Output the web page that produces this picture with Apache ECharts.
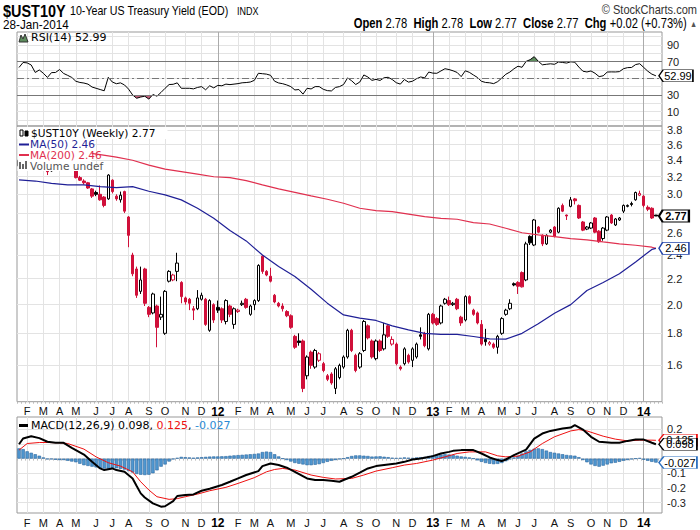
<!DOCTYPE html>
<html>
<head>
<meta charset="UTF-8">
<title>$UST10Y 10-Year US Treasury Yield</title>
<script src="https://cdn.jsdelivr.net/npm/echarts@6/dist/echarts.min.js"></script>
<style>
  html, body { margin: 0; padding: 0; background: #fff; }
  #main { width: 700px; height: 530px; }
</style>
</head>
<body>
<div id="main"></div>
<script>
// weekly bars, first bar = week of Mon 24-Jan-2011, last = week of 27-Jan-2014
var firstWeek = Date.UTC(2011, 0, 24);
var barCount = 158;
var asOf = '28-Jan-2014';

var opens = [3.33,3.40,3.64,3.62,3.57,3.43,3.49,3.36,3.27,3.44,
  3.46,3.57,3.41,3.38,3.28,3.19,3.15,3.13,3.06,3.02,
  3.00,2.97,2.95,3.16,2.98,2.94,3.03,2.76,2.40,2.28,
  2.10,2.28,1.98,1.94,1.99,1.91,1.80,2.18,2.19,2.26,
  2.17,2.05,2.04,1.97,1.97,2.04,2.04,1.82,2.00,1.98,
  1.97,1.88,1.99,1.86,1.95,2.00,2.04,1.93,2.00,2.03,
  2.39,2.26,2.22,2.07,2.01,1.99,1.95,1.92,1.78,1.75,
  1.75,1.54,1.68,1.59,1.63,1.61,1.54,1.55,1.47,1.53,
  1.59,1.65,1.82,1.66,1.59,1.69,1.85,1.75,1.64,1.75,
  1.70,1.85,1.73,1.73,1.59,1.61,1.66,1.63,1.65,1.79,
  1.80,1.70,1.93,1.90,1.87,2.01,2.03,2.00,2.04,1.91,
  1.89,2.06,1.96,1.94,1.86,1.76,1.73,1.73,1.71,1.80,
  1.93,1.97,2.16,2.17,2.25,2.19,2.57,2.49,2.66,2.58,
  2.50,2.61,2.66,2.61,2.88,2.78,2.87,2.95,2.88,2.71,
  2.64,2.65,2.75,2.62,2.55,2.63,2.78,2.68,2.73,2.82,
  2.87,2.90,2.94,2.99,2.98,2.86,2.85,2.78];
var closes = [3.40,3.64,3.63,3.58,3.42,3.49,3.40,3.26,3.44,3.45,
  3.58,3.41,3.39,3.33,3.19,3.16,3.13,3.07,2.98,3.00,
  2.94,2.88,3.22,3.03,2.95,2.99,2.82,2.58,2.24,2.07,
  2.19,2.01,1.93,2.08,1.84,1.93,2.10,2.26,2.23,2.33,
  2.06,2.02,2.01,1.96,2.05,2.07,1.86,2.03,1.89,1.96,
  1.89,2.03,1.93,1.97,1.96,2.01,1.98,1.99,2.03,2.31,
  2.26,2.23,2.18,2.02,1.99,1.97,1.92,1.84,1.71,1.74,
  1.47,1.65,1.60,1.69,1.67,1.57,1.52,1.50,1.58,1.60,
  1.65,1.82,1.69,1.57,1.67,1.88,1.77,1.65,1.75,1.69,
  1.79,1.78,1.76,1.61,1.58,1.70,1.62,1.70,1.73,1.78,
  1.72,1.93,1.87,1.86,1.99,2.04,2.00,2.01,1.97,1.87,
  2.06,2.01,1.93,1.87,1.73,1.745,1.74,1.71,1.78,1.90,
  1.96,2.01,2.15,2.14,2.135,2.50,2.51,2.73,2.61,2.50,
  2.58,2.63,2.57,2.85,2.82,2.77,2.94,2.93,2.75,2.63,
  2.66,2.70,2.61,2.52,2.65,2.76,2.70,2.74,2.75,2.88,
  2.88,2.89,3.02,3.01,2.88,2.84,2.75,2.77];
var lows = [3.31,3.38,3.58,3.55,3.40,3.40,3.38,3.22,3.26,3.40,
  3.44,3.40,3.35,3.31,3.18,3.15,3.11,3.06,2.96,2.98,
  2.93,2.86,2.94,3.01,2.93,2.91,2.80,2.47,2.22,2.05,
  2.08,1.99,1.91,1.93,1.71,1.89,1.79,2.17,2.18,2.18,
  2.01,2.00,1.96,1.89,1.96,2.03,1.85,1.81,1.87,1.94,
  1.87,1.86,1.91,1.83,1.94,1.99,1.97,1.92,1.96,2.02,
  2.24,2.22,2.17,2.01,1.98,1.95,1.91,1.83,1.70,1.72,
  1.45,1.52,1.58,1.58,1.62,1.56,1.51,1.49,1.44,1.52,
  1.58,1.64,1.68,1.56,1.58,1.68,1.76,1.64,1.63,1.68,
  1.69,1.77,1.72,1.60,1.57,1.60,1.61,1.59,1.64,1.76,
  1.71,1.69,1.86,1.85,1.86,2.00,1.99,1.99,1.96,1.85,
  1.88,2.00,1.92,1.86,1.72,1.72,1.72,1.70,1.67,1.79,
  1.92,1.96,2.14,2.08,2.13,2.18,2.49,2.48,2.60,2.48,
  2.49,2.60,2.56,2.60,2.81,2.73,2.86,2.89,2.74,2.62,
  2.63,2.64,2.60,2.51,2.53,2.62,2.69,2.67,2.72,2.80,
  2.86,2.87,2.93,2.98,2.86,2.82,2.74,2.77];
var highs = [3.44,3.66,3.75,3.65,3.59,3.58,3.52,3.38,3.45,3.52,
  3.60,3.59,3.44,3.40,3.30,3.21,3.17,3.14,3.07,3.04,
  3.10,2.98,3.23,3.17,3.00,3.03,3.04,2.77,2.42,2.30,
  2.30,2.29,1.99,2.09,2.00,2.06,2.11,2.27,2.24,2.42,
  2.18,2.06,2.05,1.99,2.11,2.09,2.05,2.04,2.01,2.03,
  1.98,2.04,2.00,1.98,1.97,2.03,2.05,2.00,2.04,2.32,
  2.40,2.27,2.29,2.08,2.02,2.01,1.96,1.93,1.79,1.80,
  1.76,1.66,1.69,1.70,1.68,1.62,1.55,1.56,1.59,1.61,
  1.66,1.83,1.83,1.67,1.68,1.89,1.86,1.76,1.76,1.76,
  1.87,1.86,1.78,1.74,1.60,1.71,1.67,1.71,1.74,1.84,
  1.81,1.94,1.94,1.91,2.00,2.05,2.06,2.02,2.05,1.92,
  2.07,2.07,1.97,1.95,1.89,1.83,1.75,1.74,1.79,1.91,
  1.97,2.04,2.17,2.18,2.26,2.52,2.58,2.74,2.67,2.59,
  2.59,2.64,2.67,2.86,2.90,2.785,2.97,2.96,2.89,2.72,
  2.67,2.71,2.76,2.63,2.66,2.77,2.79,2.75,2.76,2.89,
  2.89,2.92,3.03,3.04,2.99,2.88,2.86,2.78];

// moving averages read at [bar index, yield]
var ma50 = [[0,3.163],[4,3.15],[8,3.124],[12,3.105],[16,3.105],[20,3.086],[24,3.075],[28,3.086],
  [32,3.034],[36,2.993],[40,2.939],[44,2.85],[48,2.747],[52,2.626],[56,2.528],[60,2.40],[64,2.30],
  [68,2.218],[72,2.117],[76,2.011],[80,1.926],[84,1.903],[88,1.887],[92,1.85],[96,1.823],[100,1.80],
  [104,1.793],[108,1.793],[112,1.779],[116,1.764],[120,1.762],[124,1.80],[128,1.864],[132,1.938],
  [136,2.0],[140,2.107],[144,2.17],[148,2.24],[152,2.34],[156,2.45],[157,2.46]];
var ma200 = [[16,3.50],[20,3.47],[24,3.44],[28,3.40],[32,3.34],[36,3.29],[40,3.26],[44,3.23],
  [48,3.20],[52,3.19],[56,3.155],[60,3.105],[64,3.06],[68,3.022],[72,2.982],[76,2.946],[80,2.903],
  [84,2.85],[88,2.826],[92,2.815],[96,2.79],[100,2.764],[104,2.747],[108,2.737],[112,2.704],
  [116,2.69],[120,2.648],[124,2.605],[128,2.584],[132,2.568],[136,2.549],[140,2.537],[144,2.518],
  [148,2.50],[152,2.488],[156,2.47],[157,2.46]];

var rsi = [63,69,68.5,66,57,60,56,51,56.8,57,
  60.5,55.8,53.5,51,46.5,45,44.3,43,39.5,38,
  36.5,35,51.2,45.5,43.5,44.5,42,37,30,26,
  27.5,28.5,25,30.5,28.5,33,38,42.5,42.8,44.5,
  38,38,38,37.3,39,40,36.2,41,38.5,41.5,
  41,43,42.4,43,43.6,44.6,44.9,45.5,47.5,56,
  55.5,55,53.6,46.5,44.4,43.5,42,40,36,36.5,
  31,38,37.2,40,40,36.8,35.2,34.8,39,40,
  42.5,50.5,47,42.5,45.5,54,51.5,47.5,48.7,47.4,
  50.7,51.2,48.5,44.7,43,48.5,45.4,46.5,49.5,51.6,
  50.5,57.5,56.2,56,58.8,61.5,60.5,59,57,52,
  59,57.2,54,51,46.4,45,44.6,43.6,46,50.3,
  54.8,57.5,61.4,64.5,63.2,70.3,72.4,76,70.5,66.2,
  66.8,67.4,66.8,69.6,69,68.3,69.8,69.3,63.5,58.5,
  57.6,58.8,56,52,53,57.5,57.7,57.6,58,61.5,
  62.8,63,66.5,67.5,63,58.5,55,52.99];

var macd = [[0,0.098],[1,0.137],[3,0.153],[5,0.14],[7,0.115],[9,0.108],[11,0.108],[13,0.074],
  [16,0.028],[18,-0.022],[20,-0.067],[21,-0.078],[23,-0.067],[24,-0.078],[26,-0.09],[28,-0.135],
  [29,-0.187],[30,-0.237],[31,-0.265],[33,-0.305],[35,-0.328],[36,-0.325],[38,-0.29],[39,-0.255],
  [41,-0.248],[43,-0.244],[45,-0.219],[47,-0.205],[50,-0.18],[52,-0.158],[54,-0.135],[56,-0.112],
  [59,-0.085],[60,-0.051],[62,-0.033],[64,-0.044],[66,-0.062],[68,-0.09],[71,-0.135],[73,-0.146],
  [75,-0.146],[77,-0.151],[79,-0.158],[80,-0.146],[82,-0.124],[84,-0.096],[86,-0.067],[88,-0.051],
  [91,-0.04],[93,-0.033],[95,-0.022],[97,-0.006],[99,0.001],[102,0.017],[104,0.035],[106,0.046],
  [107,0.053],[109,0.058],[112,0.058],[114,0.035],[116,0.008],[118,-0.01],[119,-0.017],[120,-0.006],
  [122,0.024],[125,0.062],[127,0.137],[129,0.171],[131,0.189],[134,0.205],[136,0.212],[137,0.228],
  [139,0.198],[141,0.149],[143,0.115],[146,0.108],[148,0.108],[150,0.121],[152,0.13],[154,0.13],
  [156,0.108],[157,0.098]];
var signal = [[0,0.058],[2,0.103],[5,0.11],[7,0.11],[10,0.108],[12,0.103],[16,0.065],[19,0.012],
  [22,-0.028],[25,-0.051],[28,-0.09],[30,-0.158],[32,-0.214],[34,-0.26],[37,-0.278],[39,-0.273],
  [41,-0.26],[44,-0.242],[47,-0.219],[51,-0.196],[54,-0.169],[58,-0.13],[61,-0.09],[63,-0.074],
  [65,-0.067],[68,-0.078],[72,-0.112],[75,-0.128],[78,-0.139],[82,-0.135],[85,-0.112],[88,-0.085],
  [92,-0.062],[95,-0.044],[98,-0.033],[102,-0.01],[105,0.012],[108,0.035],[111,0.046],[115,0.046],
  [118,0.019],[120,0.012],[123,0.017],[126,0.046],[129,0.103],[132,0.149],[136,0.189],[138,0.198],
  [140,0.189],[144,0.153],[147,0.133],[150,0.121],[153,0.126],[156,0.126],[157,0.125]];
var hist = [0.07,0.065,0.05,0.04,0.03,0.02,0.008,-0.005,-0.005,-0.008,
  -0.01,-0.01,-0.015,-0.02,-0.025,-0.035,-0.045,-0.05,-0.055,-0.06,
  -0.065,-0.068,-0.068,-0.066,-0.066,-0.07,-0.075,-0.085,-0.095,-0.105,
  -0.11,-0.112,-0.11,-0.1,-0.08,-0.055,-0.04,-0.02,-0.005,0.005,
  0.012,0.01,0.008,0.006,0.008,0.01,0.012,0.014,0.015,0.015,
  0.016,0.017,0.02,0.022,0.024,0.026,0.028,0.03,0.032,0.035,
  0.045,0.048,0.045,0.03,0.015,0,-0.01,-0.02,-0.03,-0.035,
  -0.04,-0.045,-0.045,-0.042,-0.038,-0.03,-0.022,-0.015,-0.01,-0.005,
  0,0.01,0.018,0.022,0.022,0.02,0.018,0.014,0.015,0.016,
  0.013,0.01,0.006,0.004,0.005,0.008,0.006,0.004,0.008,0.01,
  0.012,0.018,0.022,0.025,0.028,0.03,0.028,0.025,0.02,0.015,
  0.012,0.008,0,-0.012,-0.022,-0.03,-0.035,-0.038,-0.036,-0.03,
  -0.018,-0.005,0.008,0.02,0.035,0.05,0.06,0.068,0.07,0.065,
  0.055,0.045,0.04,0.035,0.03,0.025,0.022,0.02,0.01,-0.01,
  -0.025,-0.04,-0.05,-0.055,-0.048,-0.04,-0.032,-0.028,-0.022,-0.015,
  -0.01,-0.005,0,0.004,-0.008,-0.015,-0.022,-0.027];

// grid lines at every tick; labels only where the reference shows them (others sit under the value tags)
var priceTicks = [1.6,1.8,2.0,2.2,2.4,2.6,2.8,3.0,3.2,3.4,3.6,3.8];
var priceLabels = [1.6,1.8,2.0,2.2,2.4,2.6,3.0,3.2,3.4,3.6,3.8];
var rsiTicks = [0,10,20,30,40,50,60,70,80,90,100];
var rsiLabels = [10,30,70,90];
var macdTicks = [-0.3,-0.2,-0.1,0,0.1,0.2];
var macdLabels = [-0.3,-0.2,-0.1,0.2];
var monthLetters = ['J','F','M','A','M','J','J','A','S','O','N','D'];

var axisFont = "'Liberation Sans', Arial, sans-serif";
var sans = "'DejaVu Sans', Verdana, sans-serif";
var red = '#d0103a';
var navy = '#1f1f96';
var maRed = '#e0304f';

// one extra empty week on the right, like the reference
var weeks = [];
for (var i = 0; i <= barCount; i++) {
  weeks.push(new Date(firstWeek + i * 7 * 864e5).toISOString().slice(0, 10));
}
var monthStart = weeks.map(function (w, i) {
  return i > 0 && i < barCount && w.slice(5, 7) !== weeks[i - 1].slice(5, 7);
});

var candles = [];
for (i = 0; i < barCount; i++) {
  var hollow = closes[i] >= opens[i];
  var col = (i > 0 && closes[i] < closes[i - 1]) ? red : '#000';
  candles.push({
    value: [Math.log(opens[i]), Math.log(closes[i]), Math.log(lows[i]), Math.log(highs[i])],
    itemStyle: {
      color: hollow ? '#fff' : col, color0: hollow ? '#fff' : col,
      borderColor: col, borderColor0: col, borderColorDoji: col
    }
  });
}
function logPts(arr) { return arr.map(function (p) { return [p[0], Math.log(p[1])]; }); }

var last = barCount - 1;
var lastClose = closes[last];
var chg = closes[last] - closes[last - 1];
var lastMa50 = ma50[ma50.length - 1][1];
var lastMa200 = ma200[ma200.length - 1][1];
var lastMacd = macd[macd.length - 1][1];
var lastSignal = signal[signal.length - 1][1];
var lastHist = hist[last];

function monthLines() {
  var d = [];
  for (var k = 0; k < weeks.length; k++) {
    if (monthStart[k]) {
      d.push({ xAxis: k, lineStyle: { color: weeks[k].slice(5, 7) === '01' ? '#ababab' : '#e3e3e3' } });
    }
  }
  return { silent: true, symbol: ['none', 'none'], label: { show: false }, z: 1,
    lineStyle: { type: 'solid', width: 1 }, animation: false, data: d };
}
function gridLineSeries(k) {
  return { type: 'line', xAxisIndex: k, yAxisIndex: k, data: [], z: 1, silent: true, markLine: monthLines() };
}
function tag(coord, text, border, w, bold) {
  return {
    silent: true, animation: false,
    symbol: 'path://M0,6L5,0L40,0L40,12L5,12Z',
    symbolSize: [w, 12],
    symbolKeepAspect: false,
    symbolOffset: [3 + w / 2, 0],
    itemStyle: { color: '#fff', borderColor: border, borderWidth: bold ? 1.5 : 1 },
    label: { show: true, position: 'inside', offset: [2, 0], formatter: text, color: '#000',
      fontSize: 11, lineHeight: 10, fontWeight: bold ? 'bold' : 'normal', fontFamily: axisFont },
    data: [{ coord: coord }]
  };
}
function monthLabel(value) {
  var m = +value.slice(5, 7);
  return m === 1 ? '{y|' + value.slice(2, 4) + '}' : monthLetters[m - 1];
}
function xAxisFor(k, withLabels) {
  return {
    type: 'category', gridIndex: k, data: weeks, boundaryGap: true,
    axisLine: { show: false },
    axisTick: { show: withLabels, interval: 0, length: 2, lineStyle: { color: '#bbb' } },
    splitLine: { show: false },
    axisLabel: {
      show: withLabels, interval: function (idx) { return monthStart[idx]; },
      formatter: monthLabel, margin: 4, fontSize: 11, color: '#111', fontFamily: axisFont,
      rich: { y: { fontSize: 12, fontWeight: 'bold', color: '#000', fontFamily: axisFont } }
    }
  };
}
function yAxisFor(k, min, max, ticks, labels, fmt) {
  return {
    type: 'value', gridIndex: k, position: 'right', min: min, max: max, scale: true,
    axisLine: { show: false },
    axisTick: { show: false, customValues: ticks },
    splitLine: { show: true, lineStyle: { color: '#e3e3e3', width: 1 } },
    axisLabel: { customValues: labels, formatter: fmt, margin: 5, fontSize: 11, lineHeight: 10,
      color: '#222', fontFamily: axisFont }
  };
}

function signed(v, d) { return (v >= 0 ? '+' : '') + v.toFixed(d); }
var quote = '{b|Open} ' + opens[last].toFixed(2) + '  {b|High} ' + highs[last].toFixed(2) +
  '  {b|Low} ' + lows[last].toFixed(2) + '  {b|Close} ' + lastClose.toFixed(2) +
  '  {b|Chg} ' + signed(chg, 2) + ' (' + signed(chg / closes[last - 1] * 100, 2) + '%) {t|▲}';

function legendText(x, y, text, color, size) {
  return { type: 'text', x: x, y: y, z: 100, scaleX: size === 10 ? 1.06 : 1,
    style: { text: text, fontSize: size, lineHeight: size,
    fontFamily: sans, fill: color, verticalAlign: 'middle' } };
}

var graphics = [
  { type: 'text', x: 3, y: 11, z: 100, scaleX: 0.85, style: { text: '$UST10Y', fontSize: 17, fontWeight: 'bold', fontFamily: axisFont, fill: '#000', verticalAlign: 'middle' } },
  { type: 'text', x: 70, y: 11, z: 100, scaleX: 0.82, style: { text: '10-Year US Treasury Yield (EOD)', fontSize: 13, fontFamily: axisFont, fill: '#000', verticalAlign: 'middle' } },
  { type: 'text', x: 237, y: 11.5, z: 100, scaleX: 0.9, style: { text: 'INDX', fontSize: 10, fontFamily: axisFont, fill: '#000', verticalAlign: 'middle' } },
  { type: 'text', x: 697, y: 10, z: 100, scaleX: 0.85, style: { text: '© StockCharts.com', fontSize: 13, fontFamily: axisFont, fill: '#333', align: 'right', verticalAlign: 'middle' } },
  { type: 'text', x: 3, y: 25, z: 100, scaleX: 0.9, style: { text: asOf, fontSize: 13, fontFamily: axisFont, fill: '#000', verticalAlign: 'middle' } },
  { type: 'text', x: 697, y: 24, z: 100, scaleX: 0.8, style: { text: quote, fontSize: 14, fontFamily: axisFont, fill: '#000', align: 'right', verticalAlign: 'middle',
      rich: { b: { fontWeight: 'bold', fontSize: 14, fontFamily: axisFont }, t: { fontSize: 9, fill: '#555' } } } },
  // RSI panel label
  { type: 'polygon', z: 100, shape: { points: [[19, 42], [21, 35], [23, 39], [25, 34], [28, 42]] }, style: { fill: '#5d8c5d', stroke: '#333', lineWidth: 1 } },
  legendText(31, 37.5, 'RSI(14) ' + rsi[last].toFixed(2), '#000', 11),
  // price panel legend on a white box
  { type: 'rect', z: 99, shape: { x: 17.5, y: 127, width: 74, height: 44 }, style: { fill: '#fff' } },
  { type: 'rect', z: 99, shape: { x: 17.5, y: 127, width: 150, height: 12 }, style: { fill: '#fff' } },
  { type: 'rect', z: 100, shape: { x: 20, y: 130, width: 3, height: 6 }, style: { fill: '#fff', stroke: '#000', lineWidth: 1 } },
  { type: 'rect', z: 100, shape: { x: 25, y: 131, width: 3, height: 5 }, style: { fill: '#000', stroke: '#000', lineWidth: 1 } },
  legendText(31, 133.5, '$UST10Y (Weekly) ' + lastClose.toFixed(2), '#000', 10),
  { type: 'rect', z: 100, shape: { x: 19, y: 143.5, width: 10, height: 2 }, style: { fill: navy } },
  legendText(30, 144.5, 'MA(50) ' + lastMa50.toFixed(2), navy, 10),
  { type: 'rect', z: 100, shape: { x: 19, y: 154, width: 10, height: 2 }, style: { fill: maRed } },
  legendText(30, 155.2, 'MA(200) ' + lastMa200.toFixed(2), maRed, 10),
  { type: 'rect', z: 100, shape: { x: 19, y: 162, width: 2, height: 7 }, style: { fill: '#666' } },
  { type: 'rect', z: 100, shape: { x: 22, y: 164, width: 2, height: 5 }, style: { fill: '#666' } },
  { type: 'rect', z: 100, shape: { x: 25, y: 161, width: 2, height: 8 }, style: { fill: '#666' } },
  legendText(30, 165.8, 'Volume undef', '#555', 10),
  // MACD panel label
  { type: 'rect', z: 100, shape: { x: 19, y: 424, width: 9, height: 3 }, style: { fill: '#000' } },
  { type: 'text', x: 31, y: 425.5, z: 100, style: {
      text: 'MACD(12,26,9) ' + lastMacd.toFixed(3) + ', {r|' + lastSignal.toFixed(3) + '}, {b|' + lastHist.toFixed(3) + '}',
      fontSize: 11, lineHeight: 10, fontFamily: sans, fill: '#000', verticalAlign: 'middle',
      rich: { r: { fill: '#ee1111', fontSize: 11, lineHeight: 10, fontFamily: sans }, b: { fill: '#2a8ad4', fontSize: 11, lineHeight: 10, fontFamily: sans } } } }
];

var chart = echarts.init(document.getElementById('main'), null, { renderer: 'svg' });
chart.setOption({
  animation: false,
  backgroundColor: '#fff',
  textStyle: { fontFamily: axisFont },
  grid: [
    { left: 17, right: 38, top: 32, height: 94, show: true, borderColor: '#999', borderWidth: 1 },
    { left: 17, right: 38, top: 126, height: 275.7, show: true, borderColor: '#999', borderWidth: 1 },
    { left: 17, right: 38, top: 417, height: 96, show: true, borderColor: '#999', borderWidth: 1 }
  ],
  xAxis: [xAxisFor(0, false), xAxisFor(1, true), xAxisFor(2, true)],
  yAxis: [
    yAxisFor(0, -7.3, 105.6, rsiTicks, rsiLabels, function (v) { return String(v); }),
    yAxisFor(1, Math.log(1.4), Math.log(3.856), priceTicks.map(Math.log), priceLabels.map(Math.log),
      function (v) { return Math.exp(v).toFixed(1); }),
    yAxisFor(2, -0.371, 0.284, macdTicks, macdLabels, function (v) { return Math.abs(v) < 1e-9 ? '0.0' : v.toFixed(1); })
  ],
  visualMap: [{
    show: false, type: 'piecewise', seriesIndex: 1, dimension: 1,
    pieces: [
      { gt: 70, color: '#5d8c5d' },
      { gte: 30, lte: 70, color: 'rgba(255,255,255,0)' },
      { lt: 30, color: '#c0607a' }
    ]
  }],
  graphic: graphics,
  series: [
    gridLineSeries(0),
    { type: 'line', xAxisIndex: 0, yAxisIndex: 0, data: rsi, symbol: 'none', silent: true,
      lineStyle: { width: 0 }, areaStyle: { origin: 70, opacity: 1 } },
    { type: 'line', xAxisIndex: 0, yAxisIndex: 0, data: rsi, symbol: 'none', clip: false,
      lineStyle: { color: '#000', width: 1 }, itemStyle: { color: '#000' },
      markLine: { silent: true, symbol: ['none', 'none'], label: { show: false }, animation: false,
        data: [
          { yAxis: 70, lineStyle: { color: '#777', type: 'solid', width: 1 } },
          { yAxis: 30, lineStyle: { color: '#777', type: 'solid', width: 1 } },
          { yAxis: 50, lineStyle: { color: '#777', type: [7, 3, 2, 3], width: 1 } }
        ] },
      markPoint: tag([last, rsi[last]], rsi[last].toFixed(2), '#000', 34, false) },

    gridLineSeries(1),
    { type: 'candlestick', xAxisIndex: 1, yAxisIndex: 1, data: candles, barWidth: 3, clip: false,
      itemStyle: { borderWidth: 1 },
      markPoint: tag([last, Math.log(lastClose)], lastClose.toFixed(2), '#000', 30, true) },
    { type: 'line', xAxisIndex: 1, yAxisIndex: 1, data: logPts(ma200), symbol: 'none', silent: true,
      lineStyle: { color: maRed, width: 1.2 } },
    { type: 'line', xAxisIndex: 1, yAxisIndex: 1, data: logPts(ma50), symbol: 'none', clip: false,
      lineStyle: { color: navy, width: 1.2 }, itemStyle: { color: navy },
      markPoint: tag([last, Math.log(lastMa50)], lastMa50.toFixed(2), '#2244aa', 30, false) },

    gridLineSeries(2),
    { type: 'bar', xAxisIndex: 2, yAxisIndex: 2, data: hist, barWidth: 3.4, clip: false,
      itemStyle: { color: '#4f97d0', borderColor: '#2a66a0', borderWidth: 0.6 },
      markPoint: tag([last, lastHist], lastHist.toFixed(3), '#2a6fc0', 38, false) },
    { type: 'line', xAxisIndex: 2, yAxisIndex: 2, data: signal, symbol: 'none', clip: false,
      lineStyle: { color: '#ee1111', width: 1 }, itemStyle: { color: '#ee1111' },
      markPoint: tag([last, lastSignal], lastSignal.toFixed(3), '#ee1111', 38, false) },
    { type: 'line', xAxisIndex: 2, yAxisIndex: 2, data: macd, symbol: 'none', clip: false,
      lineStyle: { color: '#000', width: 2 }, itemStyle: { color: '#000' },
      markPoint: tag([last, lastMacd], lastMacd.toFixed(3), '#000', 38, false) }
  ]
});
</script>
</body>
</html>
